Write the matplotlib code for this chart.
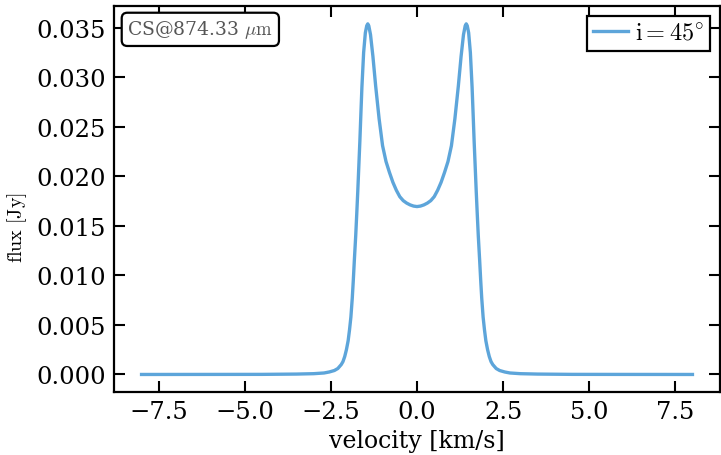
import matplotlib
matplotlib.use("Agg")
import matplotlib.pyplot as plt
import numpy as np

# velocity grid (km/s) and flux (Jy), v >= 0 half
velocity_half = [0.00, 0.10, 0.20, 0.30, 0.40, 0.50, 0.60, 0.70, 0.80, 0.90,
                 1.00, 1.10, 1.20, 1.28, 1.35, 1.40, 1.43, 1.46, 1.50, 1.55,
                 1.60, 1.63, 1.66, 1.69, 1.72, 1.75, 1.78, 1.82, 1.85, 1.88,
                 1.92, 1.96, 2.00, 2.05, 2.10, 2.15, 2.20, 2.30, 2.40, 2.55,
                 2.70, 3.00, 3.50, 4.50, 6.00, 8.00]
flux_half = [0.01695, 0.01700, 0.01712, 0.01730, 0.01755, 0.01795, 0.01860,
             0.01940, 0.02040, 0.02150, 0.02310, 0.02580, 0.02910, 0.03210,
             0.03430, 0.03520, 0.03540, 0.03520, 0.03450, 0.03250,
             0.02900, 0.02630, 0.02350, 0.02100, 0.01850, 0.01620, 0.01400,
             0.01150, 0.00950, 0.00770, 0.00580, 0.00450, 0.00340, 0.00250,
             0.00180, 0.00130, 0.00100, 0.00060, 0.00040, 0.00025,
             0.00015, 0.00008, 0.00004, 0.00001, 0.000005, 0.0]

line_label = r"$\mathrm{i = 45^{\circ}}$"
box_label = r"CS@874.33 $\mu\mathrm{m}$"

# mirror the half profile (it is symmetric)
velocity = [-v for v in velocity_half[:0:-1]] + velocity_half
flux = flux_half[:0:-1] + flux_half

plt.rcParams["font.family"] = ["DejaVu Serif"]
plt.rcParams["mathtext.fontset"] = "cm"

fig = plt.figure(figsize=(7.21, 4.56), dpi=100)
ax = fig.add_axes([114 / 721, 1 - 393 / 456, (720 - 114) / 721, (393 - 7) / 456])

ax.plot(velocity, flux, color="#5DA5DA", lw=2.4, label=line_label)

ax.set_xlim(-8.8, 8.8)
ax.set_ylim(-0.00177, 0.0372)
ax.set_xticks([-7.5, -5.0, -2.5, 0.0, 2.5, 5.0, 7.5])
ax.set_yticks(np.arange(0, 0.036, 0.005))
ax.yaxis.set_major_formatter(matplotlib.ticker.FormatStrFormatter("%.3f"))

ax.tick_params(direction="in", top=True, right=True, length=8, width=1.5,
               labelsize=17.5, pad=6)
for s in ax.spines.values():
    s.set_linewidth(1.6)

ax.set_xlabel("velocity [km/s]", fontsize=17, labelpad=4)
ax.set_ylabel(r"$\mathrm{flux\ [Jy]}$", fontsize=14.5)
ax.yaxis.set_label_coords(-0.14, 0.43)

ax.text(0.022, 0.968, box_label, transform=ax.transAxes, ha="left", va="top",
        fontsize=13.5, color="#555555",
        bbox=dict(boxstyle="round,pad=0.3", fc="white", ec="black", lw=1.6))

leg = ax.legend(loc="upper right", fontsize=17.5, fancybox=False, framealpha=1,
                handlelength=1.45, borderaxespad=0.4, borderpad=0.25,
                handletextpad=0.3)
leg.get_frame().set_edgecolor("black")
leg.get_frame().set_linewidth(1.6)

fig.savefig("out.png", dpi=100)
